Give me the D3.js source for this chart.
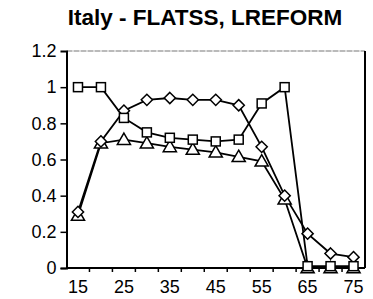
<!DOCTYPE html>
<html lang="en">
<head>
<meta charset="UTF-8">
<title>Italy - FLATSS, LREFORM</title>
<script src="https://cdn.jsdelivr.net/npm/d3@7"></script>
<style>
  body { margin: 0; background: #fff; }
  svg text { font-family: "Liberation Sans", Arial, sans-serif; fill: #000; }
  .line { fill: none; stroke: #000; stroke-width: 1.8px; }
  .mark { fill: #fff; stroke: #000; stroke-width: 1.5px; }
</style>
</head>
<body>
<div class="wrap"></div>
<script>
  // ages (categories) and the three series
  var ages = [15, 20, 25, 30, 35, 40, 45, 50, 55, 60, 65, 70, 75];
  var squares   = [1.00, 1.00, 0.83, 0.75, 0.72, 0.71, 0.70, 0.71, 0.91, 1.00, 0.01, 0.01, 0.01];
  var diamonds  = [0.31, 0.70, 0.87, 0.93, 0.94, 0.93, 0.93, 0.90, 0.67, 0.40, 0.19, 0.08, 0.06];
  var triangles = [0.29, 0.69, 0.71, 0.69, 0.67, 0.655, 0.64, 0.615, 0.59, 0.38, 0.0, 0.0, 0.0];
  var yTicks = [0, 0.2, 0.4, 0.6, 0.8, 1, 1.2];
  var xLabels = [15, 25, 35, 45, 55, 65, 75];

  var W = 373, H = 299;
  var plot = {left: 66.5, right: 365, top: 51, bottom: 268};

  var x = d3.scaleBand().domain(ages).range([plot.left, plot.right]);
  var y = d3.scaleLinear().domain([0, 1.2]).range([plot.bottom, plot.top]);

  var svg = d3.select(".wrap").append("svg")
      .attr("width", W)
      .attr("height", H);

  // title
  svg.append("text")
      .attr("x", 205)
      .attr("y", 25)
      .attr("text-anchor", "middle")
      .attr("font-size", 22.5)
      .attr("font-weight", "bold")
      .text("Italy - FLATSS, LREFORM");

  // frame: top and right
  svg.append("line")
      .attr("x1", plot.left).attr("x2", plot.right)
      .attr("y1", plot.top).attr("y2", plot.top)
      .attr("stroke", "#777").attr("stroke-width", 1.2)
      .attr("stroke-dasharray", "6 1");
  svg.append("line")
      .attr("x1", plot.right).attr("x2", plot.right)
      .attr("y1", plot.top).attr("y2", plot.bottom)
      .attr("stroke", "#000").attr("stroke-width", 2);

  // y axis
  var yAxis = svg.append("g")
      .attr("transform", "translate(" + plot.left + ",0)")
      .call(d3.axisLeft(y).tickValues(yTicks).tickSize(6).tickPadding(4)
        .tickFormat(function(d) { return String(+d.toFixed(1)); }));
  yAxis.select(".domain").attr("stroke-width", 2);
  yAxis.selectAll(".tick line").attr("stroke-width", 1.5);
  yAxis.selectAll(".tick").filter(function(d) { return d === 1.2; }).select("line").remove();
  yAxis.selectAll("text").attr("font-size", 18).attr("font-family", "Liberation Sans, Arial, sans-serif");

  // x axis: ticks between categories
  var xAxis = svg.append("g")
      .attr("transform", "translate(0," + plot.bottom + ")");
  xAxis.append("line")
      .attr("x1", plot.left).attr("x2", plot.right)
      .attr("stroke", "#000").attr("stroke-width", 2);
  xAxis.selectAll("line.tk").data(ages.slice(1)).enter().append("line")
      .attr("class", "tk")
      .attr("x1", function(d) { return x(d); })
      .attr("x2", function(d) { return x(d); })
      .attr("y1", 0).attr("y2", 4)
      .attr("stroke", "#000").attr("stroke-width", 1.5);
  xAxis.selectAll("text").data(xLabels).enter().append("text")
      .attr("x", function(d) { return x(d) + x.bandwidth() / 2; })
      .attr("y", 25)
      .attr("text-anchor", "middle")
      .attr("font-size", 18)
      .text(function(d) { return d; });

  var cx = function(i) { return x(ages[i]) + x.bandwidth() / 2; };
  var line = d3.line()
      .x(function(d, i) { return cx(i); })
      .y(function(d) { return y(d); });

  [triangles, diamonds, squares].forEach(function(s) {
    svg.append("path")
        .datum(s)
        .attr("class", "line")
        .attr("d", line);
  });

  // markers
  var tri = d3.symbol().type(d3.symbolTriangle).size(75);
  svg.selectAll("path.tri").data(triangles).enter().append("path")
      .attr("class", "mark tri")
      .attr("d", tri)
      .attr("transform", function(d, i) { return "translate(" + cx(i) + "," + (y(d) + 1) + ")"; });

  var dia = d3.symbol().type(d3.symbolDiamond2).size(80);
  svg.selectAll("path.dia").data(diamonds).enter().append("path")
      .attr("class", "mark dia")
      .attr("d", dia)
      .attr("transform", function(d, i) { return "translate(" + cx(i) + "," + y(d) + ")"; });

  svg.selectAll("rect.sq").data(squares).enter().append("rect")
      .attr("class", "mark sq")
      .attr("width", 9).attr("height", 9)
      .attr("x", function(d, i) { return cx(i) - 4.5; })
      .attr("y", function(d) { return y(d) - 4.5; });
</script>
</body>
</html>
